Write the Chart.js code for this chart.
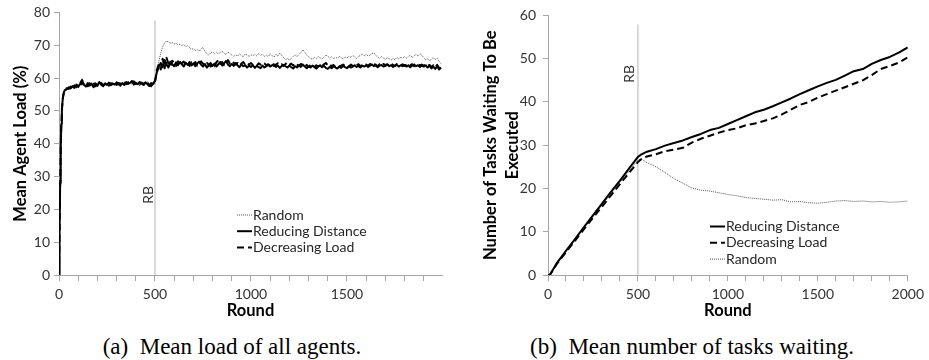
<!DOCTYPE html>
<html>
<head>
<meta charset="utf-8">
<script src="https://cdn.jsdelivr.net/npm/chart.js@4.4.1/dist/chart.umd.min.js"></script>
<style>
  body { margin: 0; background: #fff; width: 929px; height: 360px; position: relative; overflow: hidden; }
  canvas { position: absolute; top: 0; }
  #loadChart { left: 0; }
  #waitChart { left: 465px; }
  .cap {
    position: absolute; top: 334px; line-height: 26px;
    font-family: "Liberation Serif", "Times New Roman", serif; font-size: 23px;
    white-space: pre; transform: translateX(-50%); color: #000;
  }
</style>
</head>
<body>
<canvas id="loadChart" width="465" height="325"></canvas>
<canvas id="waitChart" width="464" height="325"></canvas>
<div class="cap" style="left:232px">(a)  Mean load of all agents.</div>
<div class="cap" style="left:692px">(b)  Mean number of tasks waiting.</div>
<script>
// ---- (a) mean agent load (%) per round ----
const loadRounds = [
  0, 3, 6, 9, 12, 15, 20, 25, 30,
  40, 50, 60, 70, 80, 90, 100, 110, 120, 130,
  140, 150, 160, 170, 180, 190, 200, 210, 220, 230,
  240, 250, 260, 270, 280, 290, 300, 310, 320, 330,
  340, 350, 360, 370, 380, 390, 400, 410, 420, 430,
  440, 450, 460, 470, 480, 490,
  500, 510, 520, 530, 540, 550, 560, 570, 580, 590,
  600, 610, 620, 630, 640, 650, 660, 670, 680, 690,
  700, 710, 720, 730, 740, 750, 760, 770, 780, 790,
  800, 810, 820, 830, 840, 850, 860, 870, 880, 890,
  900, 910, 920, 930, 940, 950, 960, 970, 980, 990,
  1000, 1010, 1020, 1030, 1040, 1050, 1060, 1070, 1080, 1090,
  1100, 1110, 1120, 1130, 1140, 1150, 1160, 1170, 1180, 1190,
  1200, 1210, 1220, 1230, 1240, 1250, 1260, 1270, 1280, 1290,
  1300, 1310, 1320, 1330, 1340, 1350, 1360, 1370, 1380, 1390,
  1400, 1410, 1420, 1430, 1440, 1450, 1460, 1470, 1480, 1490,
  1500, 1510, 1520, 1530, 1540, 1550, 1560, 1570, 1580, 1590,
  1600, 1610, 1620, 1630, 1640, 1650, 1660, 1670, 1680, 1690,
  1700, 1710, 1720, 1730, 1740, 1750, 1760, 1770, 1780, 1790,
  1800, 1810, 1820, 1830, 1840, 1850, 1860, 1870, 1880, 1890,
  1900, 1910, 1920, 1930, 1940, 1950, 1960, 1970, 1980, 1990
];
const loadRandom = [
  0, 13.5, 27.5, 38.5, 46, 50.2, 53.9, 55.7, 56.1,
  56.3, 57.4, 57.0, 57.8, 57.3, 58.4, 57.6, 58.9, 59.8, 58.3,
  57.8, 58.1, 58.6, 57.6, 58.0, 57.9, 58.5, 58.2, 57.8, 58.6,
  58.0, 58.3, 58.1, 58.7, 57.9, 58.4, 58.3, 57.9, 58.6, 58.2,
  58.4, 58.0, 58.9, 58.4, 58.2, 58.7, 58.5, 58.3, 58.9, 58.1,
  58.5, 58.2, 58.9, 57.9, 58.3, 58.8,
  59.5, 62.2, 65.0, 67.6, 69.5, 70.7, 71.3, 71.0, 70.6, 70.8,
  70.4, 70.6, 70.1, 70.3, 69.9, 70.2, 69.6, 69.8, 69.3, 68.7,
  69.0, 68.4, 68.7, 68.1, 68.9, 69.3, 68.2, 67.4, 67.0, 67.7,
  68.0, 67.5, 67.9, 67.3, 67.8, 68.1, 67.6, 67.2, 67.9, 67.5,
  67.0, 66.6, 67.1, 66.7, 67.4, 66.9, 66.5, 67.3, 67.0, 66.6,
  67.1, 66.8, 67.2, 66.7, 67.5, 66.9, 67.3, 66.6, 67.0, 66.5,
  67.4, 66.8, 66.4, 67.2, 66.7, 67.6, 66.9, 66.2, 65.5, 66.1,
  65.4, 66.0, 66.6, 67.1, 66.5, 67.2, 67.8, 68.6, 67.9, 67.0,
  66.5, 66.0, 65.7, 66.3, 65.9, 66.6, 66.2, 65.8, 66.4, 67.0,
  66.6, 66.2, 66.5, 65.9, 66.3, 66.0, 66.6, 66.2, 65.8, 66.4,
  66.1, 66.7, 66.3, 66.9, 66.4, 66.0, 66.6, 66.9, 67.3, 66.8,
  67.2, 66.7, 67.0, 67.5, 67.7, 66.9, 66.4, 66.0, 66.5, 66.1,
  65.7, 66.2, 65.9, 65.5, 66.0, 65.6, 66.3, 65.8, 66.4, 66.0,
  66.5, 66.1, 66.6, 66.9, 66.3, 66.8, 67.2, 66.7, 67.4, 66.9,
  66.3, 65.5, 65.9, 65.2, 65.8, 66.2, 65.6, 66.0, 65.1, 64.4
];
const loadReducing = [
  0, 14, 28, 39, 46, 50.5, 54, 55.6, 56.3,
  56.6, 57.1, 56.8, 57.5, 57.0, 57.9, 57.3, 58.2, 59.4, 58.0,
  57.4, 58.5, 57.7, 58.3, 57.2, 58.4, 57.6, 58.8, 58.0, 57.5,
  58.4, 57.9, 58.6, 57.8, 58.3, 58.0, 58.7, 58.1, 57.7, 58.5,
  57.9, 58.8, 58.2, 58.5, 59.1, 58.0, 58.6, 58.1, 58.8, 58.3,
  57.9, 58.7, 58.2, 57.6, 58.5, 58.1,
  59.2, 61.8, 63.4, 64.6, 63.3, 65.5, 64.1, 63.2, 65.0, 64.2,
  63.6, 64.8, 63.9, 64.9, 64.2, 63.5, 64.7, 64.0, 64.9, 63.8,
  64.5, 63.6, 64.4, 65.0, 64.1, 63.5, 64.3, 63.2, 63.9, 64.6,
  63.7, 64.4, 63.5, 64.2, 64.9, 63.8, 64.5, 65.2, 64.1, 63.6,
  64.3, 63.7, 64.6, 63.9, 63.3, 64.1, 63.6, 63.9, 63.2, 63.8,
  63.4, 63.9, 63.1, 63.7, 63.3, 63.0, 63.8, 63.2, 63.6, 64.0,
  63.5, 63.9, 64.2, 63.4, 63.8, 63.1, 63.7, 64.0, 63.6, 63.2,
  63.8, 63.3, 62.9, 63.6, 63.2, 63.9, 63.4, 64.1, 63.5, 63.0,
  63.6, 63.2, 63.8, 63.4, 62.9, 63.5, 63.9, 63.3, 63.7, 63.1,
  62.8, 63.4, 63.0, 63.6, 63.2, 62.9, 63.5, 63.1, 63.7, 63.3,
  63.0, 63.6, 63.2, 63.5, 63.9, 63.4, 63.7, 63.2, 63.8, 63.5,
  63.9, 63.4, 63.8, 64.1, 63.6, 63.9, 63.3, 63.8, 64.0, 63.5,
  63.7, 64.1, 63.6, 63.9, 63.4, 63.8, 64.0, 63.5, 63.9, 63.6,
  64.0, 63.5, 63.9, 63.3, 63.8, 64.1, 63.6, 63.9, 63.4, 63.8,
  63.5, 63.9, 63.2, 63.7, 62.9, 63.5, 62.8, 63.6, 62.6, 63.2
];
const loadDecreasing = [
  0, 13, 27, 38, 45.5, 50, 53.8, 55.4, 56.5,
  56.9, 56.7, 57.4, 56.9, 57.8, 57.2, 58.1, 57.6, 58.8, 57.7,
  58.2, 57.5, 58.4, 57.9, 58.6, 57.5, 58.2, 57.9, 58.5, 57.8,
  58.1, 58.6, 57.7, 58.4, 58.2, 58.7, 57.9, 58.5, 58.2, 57.9,
  58.6, 58.1, 58.7, 58.0, 58.5, 59.0, 58.2, 58.7, 58.0, 58.6,
  58.3, 57.8, 58.6, 58.0, 57.5, 58.4,
  58.8, 62.5, 64.2, 62.6, 65.9, 63.0, 66.2, 64.4, 63.5, 65.3,
  64.5, 63.7, 65.1, 64.0, 64.6, 65.0, 63.9, 64.5, 63.7, 64.8,
  64.0, 64.9, 63.8, 64.3, 65.1, 64.4, 63.7, 64.6, 64.1, 63.5,
  64.2, 63.6, 64.8, 65.4, 64.3, 64.9, 63.9, 64.6, 65.5, 64.4,
  63.9, 64.7, 64.1, 64.6, 63.8, 64.4, 64.9, 64.0, 64.5, 64.1,
  64.6, 64.0, 64.3, 63.7, 64.5, 64.1, 63.8, 64.4, 63.9, 64.2,
  63.8, 64.3, 63.6, 64.1, 64.5, 63.9, 64.2, 63.7, 64.3, 64.8,
  64.0, 64.4, 63.8, 64.6, 64.1, 63.7, 64.3, 63.9, 63.5, 64.0,
  63.4, 64.0, 63.6, 63.3, 63.9, 63.5, 64.1, 63.7, 64.2, 64.6,
  63.8, 64.2, 63.6, 64.0, 63.4, 63.9, 63.5, 63.8, 64.1, 63.6,
  63.9, 63.5, 64.1, 63.7, 63.4, 63.9, 64.2, 63.6, 64.0, 63.7,
  64.1, 63.7, 64.3, 63.9, 64.4, 64.0, 63.6, 64.2, 63.8, 64.3,
  63.9, 64.2, 63.8, 64.4, 64.0, 63.7, 64.3, 64.1, 63.8, 64.2,
  63.7, 64.1, 64.4, 63.9, 64.2, 63.6, 64.0, 64.3, 63.9, 64.1,
  63.8, 64.2, 63.7, 64.0, 63.4, 63.9, 63.2, 64.0, 63.1, 62.7
];
const loadTicks = [0, 100, 200, 300, 400, 500, 600, 700, 800, 900, 1000,
  1100, 1200, 1300, 1400, 1500, 1600, 1700, 1800, 1900];
const loadTickLabels = [0, 500, 1000, 1500];

// ---- (b) mean number of tasks waiting per round ----
const waitRounds = [0, 10, 50, 100, 150, 200, 250, 300, 350, 400, 450, 500, 520,
  550, 600, 650, 700, 750, 800, 850, 900, 950, 1000,
  1050, 1100, 1150, 1200, 1250, 1300, 1350, 1400, 1450, 1500,
  1550, 1600, 1650, 1700, 1750, 1800, 1850, 1900, 1950, 2000];
const waitReducing = [0, 0, 2.8, 5.6, 8.3, 11.1, 13.8, 16.5, 19.2, 21.8, 24.6, 27.3, 27.9,
  28.5, 29.1, 29.9, 30.5, 31.1, 31.9, 32.6, 33.5, 34.0, 34.9,
  35.8, 36.7, 37.6, 38.2, 39.0, 39.9, 40.8, 41.8, 42.7, 43.6,
  44.4, 45.1, 46.1, 47.1, 47.6, 48.8, 49.7, 50.4, 51.4, 52.6];
const waitDecreasing = [0, 0, 2.6, 5.3, 7.9, 10.6, 13.2, 15.8, 18.4, 21.0, 23.6, 26.1, 26.8,
  27.4, 27.9, 28.6, 29.0, 29.4, 30.6, 31.5, 32.2, 32.9, 33.5,
  33.9, 34.6, 35.0, 35.6, 36.2, 37.1, 38.2, 39.3, 40.0, 41.0,
  41.8, 42.6, 43.4, 44.2, 45.0, 46.2, 47.6, 48.3, 49.1, 50.3];
const waitRandom = [0, 0, 2.7, 5.4, 8.1, 10.9, 13.5, 16.2, 18.8, 21.4, 24.0, 26.6, 26.8,
  26.0, 25.0, 23.7, 22.3, 21.2, 20.1, 19.6, 19.4, 19.0, 18.6,
  18.3, 17.9, 17.7, 17.5, 17.3, 17.4, 16.9, 17.0, 16.7, 16.6,
  16.8, 17.1, 17.2, 17.0, 17.1, 16.9, 17.0, 16.8, 16.9, 17.1];
const waitTicks = [0, 100, 200, 300, 400, 500, 600, 700, 800, 900, 1000,
  1100, 1200, 1300, 1400, 1500, 1600, 1700, 1800, 1900, 2000];
const waitTickLabels = [0, 500, 1000, 1500, 2000];

// rebalancing marker
const rbRound = 500;

const AXIS = "#a6a6a6";
const TEXT = "#333333";
const FONT = "Lato, 'Liberation Sans', sans-serif";

const pts = (xs, ys) => ys.map((y, i) => ({ x: xs[i], y: y }));

const seriesStyle = {
  random: { borderColor: "#555555", borderWidth: 1, borderDash: [1, 1] },
  reducing: { borderColor: "#000000", borderWidth: 2 },
  decreasing: { borderColor: "#000000", borderWidth: 2, borderDash: [7, 4] },
};

const rbPlugin = {
  id: "rb",
  afterDatasetsDraw(chart, args, opts) {
    const { ctx, scales } = chart;
    const x = scales.x.getPixelForValue(rbRound) + opts.dx;
    const y = scales.y.getPixelForValue(opts.labelY);
    ctx.save();
    ctx.translate(x, y);
    ctx.rotate(-Math.PI / 2);
    ctx.font = "14px " + FONT;
    ctx.fillStyle = TEXT;
    ctx.textAlign = "center";
    ctx.textBaseline = "middle";
    ctx.fillText("RB", 0, 0);
    ctx.restore();
  },
};

// legend drawn in place, as in the original figure
const boxLegend = {
  id: "boxLegend",
  afterDraw(chart, args, opts) {
    const ctx = chart.ctx;
    opts.order.forEach((di, i) => {
      const ds = chart.data.datasets[di];
      const y = opts.y + i * opts.row;
      ctx.save();
      ctx.strokeStyle = ds.borderColor;
      ctx.lineWidth = ds.borderWidth;
      ctx.setLineDash(ds.borderDash || []);
      ctx.beginPath();
      ctx.moveTo(opts.x, y);
      ctx.lineTo(opts.x + 15, y);
      ctx.stroke();
      ctx.setLineDash([]);
      ctx.font = "14px " + FONT;
      ctx.fillStyle = "#262626";
      ctx.textBaseline = "middle";
      ctx.fillText(ds.label, opts.x + 16, y);
      ctx.restore();
    });
  },
};

const xAxis = (max, ticks, labels) => ({
  type: "linear",
  min: 0,
  max: max,
  border: { color: AXIS },
  grid: { drawOnChartArea: false, drawTicks: true, tickLength: 6, color: AXIS },
  afterBuildTicks: (s) => { s.ticks = ticks.map((v) => ({ value: v })); },
  ticks: {
    autoSkip: false, maxRotation: 0, padding: 5, color: TEXT,
    font: { family: FONT, size: 14 },
    callback: (v) => (labels.includes(v) ? v : ""),
  },
  title: {
    display: true, text: "Round", color: "#000",
    font: { family: FONT, size: 16.5, weight: "bold" },
    padding: { top: 0, bottom: 4 },
  },
  afterFit: (s) => { s.height = 50; },
});

const yAxis = (max, title, width, tickPad, titlePad, lineHeight) => ({
  min: 0,
  max: max,
  border: { color: AXIS },
  grid: { drawOnChartArea: false, drawTicks: true, tickLength: 5, color: AXIS },
  ticks: { stepSize: 10, padding: tickPad, color: TEXT, font: { family: FONT, size: 14 } },
  title: {
    display: true, text: title, color: "#000",
    font: { family: FONT, size: 16.5, weight: "bold", lineHeight: lineHeight },
    padding: { top: titlePad, bottom: 0 },
  },
  afterFit: (s) => { s.width = width; },
});

const baseOptions = {
  responsive: false,
  animation: false,
  events: [],
  elements: { point: { radius: 0 }, line: { tension: 0, borderJoinStyle: "round" } },
  plugins: { legend: { display: false }, tooltip: { enabled: false } },
};

new Chart(document.getElementById("loadChart"), {
  type: "line",
  data: {
    datasets: [
      { label: "Reducing Distance", data: pts(loadRounds, loadReducing), ...seriesStyle.reducing },
      { label: "Decreasing Load", data: pts(loadRounds, loadDecreasing), ...seriesStyle.decreasing },
      { label: "Random", data: pts(loadRounds, loadRandom), ...seriesStyle.random },
      { label: "RB", data: [{ x: rbRound, y: 0 }, { x: rbRound, y: 77.5 }], borderColor: "#b4b4b4", borderWidth: 1 },
    ],
  },
  options: {
    ...baseOptions,
    layout: { padding: { left: 0, top: 12, right: 23, bottom: 0 } },
    scales: {
      x: xAxis(1995, loadTicks, loadTickLabels),
      y: yAxis(80, "Mean Agent Load (%)", 59, 4, 10.5, 1.2),
    },
    plugins: {
      ...baseOptions.plugins,
      rb: { dx: -7, labelY: 24.4 },
      boxLegend: { x: 237, y: 215, row: 16.2, order: [2, 0, 1] },
    },
  },
  plugins: [rbPlugin, boxLegend],
});

new Chart(document.getElementById("waitChart"), {
  type: "line",
  data: {
    datasets: [
      { label: "Reducing Distance", data: pts(waitRounds, waitReducing), ...seriesStyle.reducing },
      { label: "Decreasing Load", data: pts(waitRounds, waitDecreasing), ...seriesStyle.decreasing },
      { label: "Random", data: pts(waitRounds, waitRandom), ...seriesStyle.random },
      { label: "RB", data: [{ x: rbRound, y: 0 }, { x: rbRound, y: 57.9 }], borderColor: "#b4b4b4", borderWidth: 1 },
    ],
  },
  options: {
    ...baseOptions,
    layout: { padding: { left: 0, top: 11, right: 18, bottom: 0 } },
    scales: {
      x: xAxis(2000, waitTicks, waitTickLabels),
      y: yAxis(60, ["Number of Tasks Waiting To Be", "Executed"], 83, 7, 15.5, 1.28),
    },
    plugins: {
      ...baseOptions.plugins,
      rb: { dx: -8, labelY: 46.5 },
      boxLegend: { x: 245, y: 226.5, row: 16.3, order: [0, 1, 2] },
    },
  },
  plugins: [rbPlugin, boxLegend],
});
</script>
</body>
</html>
